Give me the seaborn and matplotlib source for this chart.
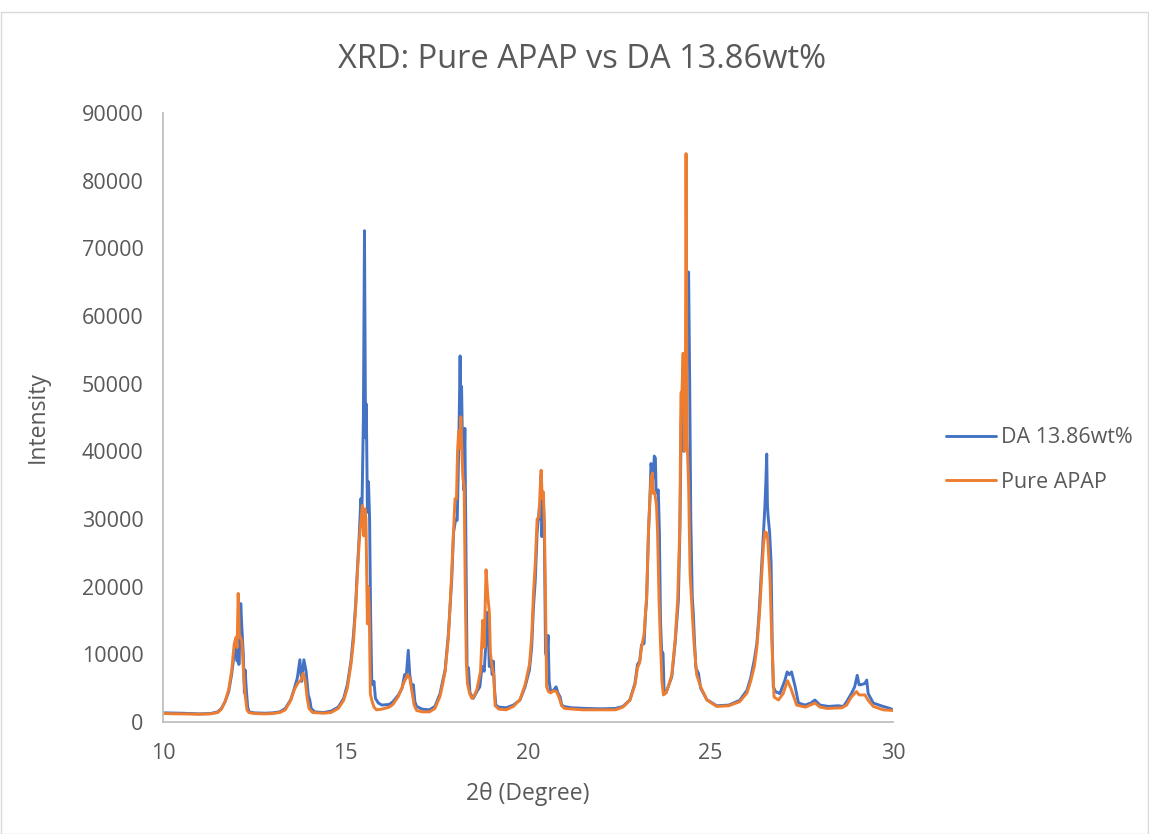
import matplotlib
matplotlib.use("Agg")
import matplotlib.pyplot as plt
import seaborn as sns
import pandas as pd
from matplotlib.patches import Rectangle

# 2-theta positions and intensities for the drug-loaded sample (DA 13.86wt%)
da_theta = [
    10.0, 10.5, 11.0, 11.3, 11.5, 11.6, 11.7, 11.8, 11.88, 11.95, 12.0, 12.03, 12.06, 12.08,
    12.11, 12.13, 12.16, 12.2, 12.23, 12.25, 12.28, 12.32, 12.36, 12.5, 12.8, 13.0, 13.2,
    13.35, 13.5, 13.6, 13.68, 13.75, 13.8, 13.86, 13.92, 13.98, 14.02, 14.06, 14.15, 14.4,
    14.6, 14.8, 14.95, 15.05, 15.15, 15.22, 15.28, 15.32, 15.38, 15.42, 15.45, 15.49, 15.52,
    15.55, 15.57, 15.6, 15.63, 15.66, 15.69, 15.72, 15.75, 15.78, 15.82, 15.9, 16.0, 16.2,
    16.3, 16.45, 16.55, 16.62, 16.66, 16.72, 16.76, 16.82, 16.86, 16.9, 16.95, 17.1, 17.3,
    17.45, 17.59, 17.66, 17.73, 17.82, 17.91, 17.96, 18.02, 18.06, 18.1, 18.14, 18.16, 18.18,
    18.21, 18.24, 18.27, 18.3, 18.33, 18.37, 18.41, 18.5, 18.6, 18.68, 18.72, 18.76, 18.8,
    18.85, 18.88, 18.91, 18.94, 18.98, 19.02, 19.05, 19.08, 19.12, 19.2, 19.4, 19.6, 19.78,
    19.92, 20.04, 20.1, 20.15, 20.2, 20.25, 20.31, 20.34, 20.36, 20.38, 20.42, 20.45, 20.48,
    20.52, 20.55, 20.58, 20.62, 20.7, 20.77, 20.82, 20.88, 20.92, 20.97, 21.2, 21.6, 22.0,
    22.4, 22.6, 22.79, 22.93, 23.0, 23.06, 23.11, 23.18, 23.22, 23.25, 23.3, 23.34, 23.37,
    23.4, 23.43, 23.46, 23.49, 23.51, 23.57, 23.6, 23.63, 23.66, 23.7, 23.73, 23.78, 23.86,
    23.94, 24.03, 24.12, 24.16, 24.2, 24.24, 24.27, 24.31, 24.35, 24.4, 24.43, 24.46, 24.5,
    24.53, 24.56, 24.6, 24.67, 24.73, 24.9, 25.17, 25.5, 25.8, 26.0, 26.1, 26.2, 26.27,
    26.33, 26.4, 26.45, 26.49, 26.52, 26.54, 26.56, 26.58, 26.62, 26.66, 26.69, 26.72,
    26.78, 26.9, 27.04, 27.1, 27.16, 27.22, 27.32, 27.41, 27.59, 27.75, 27.86, 28.0, 28.23,
    28.5, 28.64, 28.73, 28.86, 28.95, 29.02, 29.07, 29.12, 29.23, 29.28, 29.32, 29.46,
    29.73, 29.92, 30.0,
]
da_intensity = [
    1350, 1300, 1200, 1250, 1500, 2000, 3000, 4500, 7000, 10000, 11500, 9000, 12000, 8500,
    13000, 17500, 14000, 10000, 4300, 7700, 5000, 2200, 1500, 1350, 1300, 1350, 1500,
    2000, 3300, 5000, 6500, 9200, 6000, 9200, 7500, 4000, 3300, 2000, 1500, 1400,
    1600, 2200, 3500, 5500, 9000, 13000, 17500, 22000, 28000, 33000, 31000, 45000, 72600,
    42000, 47000, 31000, 35500, 30000, 15000, 6000, 5500, 6000, 3500, 2800, 2500, 2600,
    3000, 4000, 5000, 7000, 6500, 10600, 7000, 5000, 5500, 3000, 2300, 1900, 1800,
    2300, 4200, 6000, 7700, 13100, 21000, 28000, 30000, 29800, 39700, 54100, 45000, 49600,
    39000, 34300, 43400, 25000, 8200, 8000, 4300, 3500, 4500, 5200, 7200, 8200, 7500,
    12000, 16200, 14000, 8200, 9200, 7000, 9000, 5000, 2500, 2200, 2100, 2500, 3250,
    5200, 7700, 11000, 17000, 21000, 28000, 31600, 30000, 36500, 27400, 33300, 27000, 10200,
    9400, 12800, 6000, 4500, 4700, 5200, 4300, 3700, 2600, 2300, 2100, 2000, 1950,
    2000, 2300, 3250, 5700, 8500, 9000, 11400, 11600, 16000, 18000, 27900, 33000, 38200,
    36800, 36000, 39300, 39000, 33800, 34300, 27900, 15000, 10600, 10100, 4200, 4300, 5500,
    6700, 11600, 18000, 27900, 45000, 48000, 40000, 42000, 55000, 66500, 50000, 30000, 18500,
    16000, 12000, 8000, 7200, 5000, 3300, 2400, 2500, 3200, 4700, 6500, 9200, 11600,
    16000, 23000, 28000, 31800, 36000, 39600, 32000, 30300, 28000, 23500, 12000, 5200,
    4500, 4200, 6200, 7400, 7000, 7400, 5200, 2800, 2500, 2800, 3250, 2500, 2300,
    2400, 2300, 3000, 4200, 5200, 6900, 5500, 5500, 5700, 6200, 4200, 2800,
    2300, 2000, 1800,
]

# 2-theta positions and intensities for pure paracetamol (APAP)
apap_theta = [
    10.0, 10.5, 11.0, 11.3, 11.5, 11.6, 11.7, 11.8, 11.88, 11.95, 12.0, 12.03, 12.06, 12.09,
    12.12, 12.16, 12.2, 12.25, 12.3, 12.35, 12.5, 12.8, 13.0, 13.2, 13.35, 13.5, 13.6, 13.7,
    13.78, 13.84, 13.9, 13.95, 14.0, 14.1, 14.4, 14.6, 14.8, 14.95, 15.05, 15.15, 15.22,
    15.28, 15.33, 15.38, 15.42, 15.46, 15.5, 15.53, 15.56, 15.6, 15.62, 15.65, 15.68, 15.72,
    15.78, 15.85, 16.0, 16.2, 16.3, 16.45, 16.6, 16.7, 16.76, 16.82, 16.88, 16.95, 17.1,
    17.3, 17.45, 17.59, 17.66, 17.73, 17.82, 17.9, 17.96, 18.0, 18.04, 18.07, 18.1, 18.13,
    18.16, 18.19, 18.22, 18.25, 18.28, 18.31, 18.34, 18.4, 18.46, 18.52, 18.6, 18.7, 18.76,
    18.8, 18.85, 18.9, 18.94, 18.97, 19.02, 19.06, 19.1, 19.2, 19.4, 19.6, 19.78, 19.92,
    20.04, 20.1, 20.15, 20.2, 20.25, 20.3, 20.33, 20.36, 20.39, 20.42, 20.45, 20.48, 20.51,
    20.56, 20.62, 20.7, 20.78, 20.86, 20.92, 21.0, 21.5, 22.0, 22.4, 22.6, 22.79, 22.93,
    23.0, 23.06, 23.11, 23.18, 23.25, 23.3, 23.34, 23.37, 23.41, 23.43, 23.47, 23.52, 23.55,
    23.59, 23.62, 23.67, 23.71, 23.78, 23.86, 23.94, 24.03, 24.1, 24.16, 24.19, 24.22,
    24.25, 24.28, 24.31, 24.33, 24.36, 24.4, 24.44, 24.51, 24.55, 24.62, 24.73, 24.9, 25.17,
    25.5, 25.8, 26.0, 26.1, 26.2, 26.27, 26.35, 26.4, 26.45, 26.49, 26.53, 26.57, 26.63,
    26.68, 26.74, 26.86, 26.99, 27.11, 27.2, 27.36, 27.6, 27.86, 28.0, 28.2, 28.6, 28.73,
    28.86, 29.0, 29.07, 29.23, 29.32, 29.46, 29.73, 30.0,
]
apap_intensity = [
    1250, 1200, 1150, 1200, 1400, 1900, 3000, 4800, 7500, 11500, 12500, 11000, 19000, 13000,
    12500, 12000, 8000, 4000, 1800, 1400, 1250, 1200, 1250, 1400, 1800, 3200, 4800, 5800,
    6200, 7200, 6000, 3500, 2000, 1400, 1300, 1400, 2000, 3200, 5000, 8500, 12000,
    17000, 22500, 27000, 29500, 32000, 27500, 31500, 30000, 14500, 20000, 17000, 4200, 3200,
    2200, 1800, 1900, 2200, 2600, 3800, 5800, 7000, 6500, 4500, 2500, 1700, 1500,
    1500, 2000, 3800, 5500, 7500, 12500, 21000, 28000, 33000, 33000, 40000, 43000, 40500,
    45100, 40000, 36000, 34800, 20000, 9000, 5700, 4200, 3500, 3800, 4800, 7500, 15000,
    11000, 22500, 18500, 16300, 10200, 8000, 7000, 2400, 1900, 1800, 2300, 3300, 5500,
    8500, 12500, 19000, 23500, 30000, 30300, 34000, 37200, 33000, 34000, 29000, 18000, 5200,
    4500, 4300, 4600, 4500, 3500, 2400, 2000, 1800, 1800, 1800, 2200, 3200, 5500,
    8000, 8800, 11000, 13000, 18500, 28000, 33000, 36000, 36800, 33800, 34000, 32000, 27900,
    18000, 13100, 6000, 4000, 4300, 5500, 7000, 12000, 18000, 29000, 48600, 49000,
    54500, 40000, 45000, 84000, 41700, 35000, 22000, 15100, 11600, 7000, 5200, 3250, 2300,
    2400, 3000, 4300, 6000, 8200, 11000, 16600, 21500, 26000, 28100, 28000, 26900, 21000,
    12100, 3700, 3250, 4200, 6100, 5000, 2500, 2200, 2800, 2200, 2000, 2100, 2500,
    3700, 4500, 4000, 4000, 3200, 2300, 1800, 1700,
]

series_names = ["DA 13.86wt%", "Pure APAP"]
series_colors = ["#4472C4", "#ED7D31"]
y_ticks = list(range(0, 90001, 10000))
x_ticks = [10, 15, 20, 25, 30]

df = pd.concat([
    pd.DataFrame({"theta": da_theta, "intensity": da_intensity, "sample": series_names[0]}),
    pd.DataFrame({"theta": apap_theta, "intensity": apap_intensity, "sample": series_names[1]}),
], ignore_index=True)

sns.set_theme(style="white")
plt.rcParams["font.family"] = ["Open Sans", "DejaVu Sans"]
text_color = "#595959"

fig = plt.figure(figsize=(11.49, 8.34), dpi=100)
ax = fig.add_axes([163 / 1149, 1 - 722 / 834, (893 - 163) / 1149, (722 - 113) / 834])

sns.lineplot(data=df, x="theta", y="intensity", hue="sample", hue_order=series_names,
             palette=series_colors, estimator=None, sort=False, linewidth=2.1, ax=ax)

ax.set_xlim(10, 30)
ax.set_ylim(0, 90000)
ax.set_xticks(x_ticks)
ax.set_yticks(y_ticks)
ax.tick_params(axis="both", length=0, labelsize=15.5, colors=text_color)
ax.tick_params(axis="x", pad=15)
ax.tick_params(axis="y", pad=14)
for side in ("top", "right"):
    ax.spines[side].set_visible(False)
for side in ("left", "bottom"):
    ax.spines[side].set_color("#BFBFBF")
    ax.spines[side].set_linewidth(1.3)

ax.set_xlabel("2θ (Degree)", fontsize=16.5, color=text_color, labelpad=13)
ax.set_ylabel("Intensity", fontsize=16.5, color=text_color, labelpad=23)
fig.text(582 / 1149, 1 - 60 / 834, "XRD: Pure APAP vs DA 13.86wt%", ha="center", va="center",
         fontsize=23.5, color=text_color)

leg = ax.legend(loc="center left", bbox_to_anchor=(927 / 1149, 1 - 460 / 834),
                bbox_transform=fig.transFigure, frameon=False, fontsize=15.5,
                handlelength=2.3, handletextpad=0.23, labelspacing=1.1)
for txt in leg.get_texts():
    txt.set_color(text_color)

# thin chart-area border
fig.patches.append(Rectangle((1 / 1149, 0), 1 - 2 / 1149, 1 - 12 / 834, transform=fig.transFigure,
                             fill=False, edgecolor="#D9D9D9", linewidth=1.0))

fig.savefig("out.png", dpi=100)
